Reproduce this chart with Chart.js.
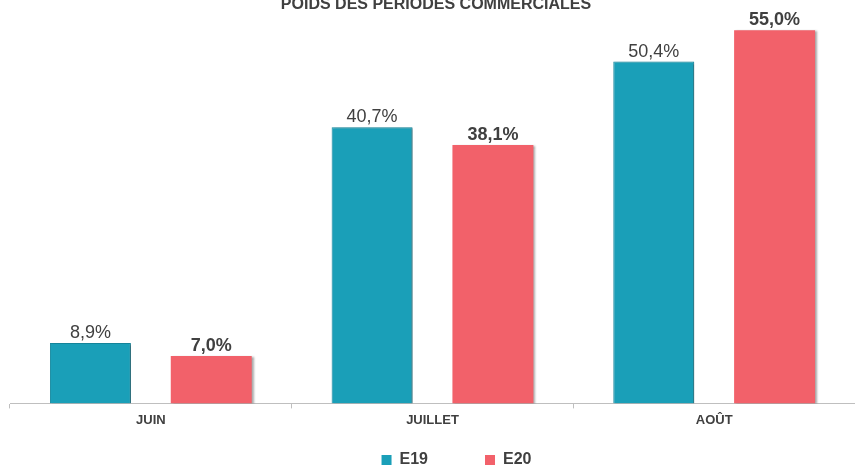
<!DOCTYPE html>
<html>
<head>
<meta charset="utf-8">
<script src="https://cdn.jsdelivr.net/npm/chart.js@4.4.1/dist/chart.umd.min.js"></script>
<style>
  html, body { margin: 0; padding: 0; background: #fff; }
  #wrap { width: 855px; height: 465px; position: relative; }
</style>
</head>
<body>
<div id="wrap"><canvas id="myChart"></canvas></div>
<script>
// data
var categories = ['JUIN', 'JUILLET', 'AOÛT'];
var seriesNames = ['E19', 'E20'];
var e19 = [8.9, 40.7, 50.4];
var e20 = [7.0, 38.1, 55.0];
var chartTitle = 'POIDS DES PÉRIODES COMMERCIALES';

var FONT = "'Liberation Sans', Arial, sans-serif";
var TEXT = '#404040';

// labels on top of bars (E19 normal, E20 bold)
var barLabels = {
    id: 'barLabels',
    afterDatasetsDraw: function(chart) {
        var ctx = chart.ctx;
        ctx.save();
        ctx.textAlign = 'center';
        ctx.textBaseline = 'bottom';
        ctx.fillStyle = TEXT;
        chart.data.datasets.forEach(function(ds, i) {
            var meta = chart.getDatasetMeta(i);
            ctx.font = (i == 1 ? 'bold ' : '') + '18px ' + FONT;
            meta.data.forEach(function(bar, j) {
                var txt = ds.data[j].toFixed(1).replace('.', ',') + '%';
                ctx.fillText(txt, bar.x, bar.y - 1);
            });
        });
        ctx.restore();
    }
};

// soft shadow on bars
var barShadow = {
    id: 'barShadow',
    beforeDatasetsDraw: function(chart) {
        var ctx = chart.ctx;
        ctx.save();
        ctx.shadowColor = 'rgba(0,0,0,0.35)';
        ctx.shadowBlur = 2;
        ctx.shadowOffsetX = 2;
        ctx.shadowOffsetY = 1;
    },
    afterDatasetsDraw: function(chart) {
        chart.ctx.restore();
    }
};

// title drawn at the very top (partly cut like the original)
var topTitle = {
    id: 'topTitle',
    afterDraw: function(chart) {
        var ctx = chart.ctx;
        ctx.save();
        ctx.font = 'bold 16px ' + FONT;
        ctx.fillStyle = TEXT;
        ctx.textAlign = 'center';
        ctx.textBaseline = 'alphabetic';
        ctx.fillText(chartTitle, 436, 9);
        ctx.restore();
    }
};

// nudge legend to the right like the original
var legendShift = {
    id: 'legendShift',
    afterLayout: function(chart) {
        chart.legend.left += 48;
    }
};

var config = {
    type: 'bar',
    data: {
        labels: categories,
        datasets: [{
            label: seriesNames[0],
            data: e19,
            backgroundColor: '#1a9fb8',
            borderColor: '#15889e',
            borderWidth: 1
        }, {
            label: seriesNames[1],
            data: e20,
            backgroundColor: '#f2616a',
            borderColor: '#f2616a',
            borderWidth: 0
        }]
    },
    options: {
        responsive: true,
        maintainAspectRatio: false,
        animation: false,
        datasets: {
            bar: { categoryPercentage: 0.858, barPercentage: 0.67 }
        },
        layout: {
            padding: { left: 10, right: 0, top: 10, bottom: -13 }
        },
        plugins: {
            title: { display: false },
            tooltip: { enabled: false },
            legend: {
                position: 'bottom',
                labels: {
                    boxWidth: 10,
                    boxHeight: 10,
                    padding: 7,
                    color: TEXT,
                    font: { family: FONT, size: 16, weight: 'bold' },
                    // two empty spacer items keep the wide gap between E19 and E20
                    generateLabels: function(chart) {
                        var items = Chart.defaults.plugins.legend.labels.generateLabels(chart);
                        var spacer = function() {
                            return { text: '', fillStyle: 'rgba(0,0,0,0)', strokeStyle: 'rgba(0,0,0,0)',
                                     lineWidth: 0, hidden: false, datasetIndex: -1 };
                        };
                        items.forEach(function(it) { it.lineWidth = 0; });
                        return [items[0], spacer(), spacer(), items[1]];
                    }
                }
            }
        },
        scales: {
            x: {
                grid: {
                    offset: true,
                    drawOnChartArea: false,
                    tickLength: 5,
                    color: '#bfbfbf'
                },
                border: { color: '#bfbfbf', width: 1 },
                ticks: {
                    color: TEXT,
                    padding: 4,
                    font: { family: FONT, size: 13, weight: 'bold' }
                },
                afterFit: function(scale) {
                    scale.height += 13;
                }
            },
            y: {
                display: false,
                min: 0,
                max: 58
            }
        }
    },
    plugins: [barShadow, barLabels, topTitle, legendShift]
};

var ctx = document.getElementById('myChart').getContext('2d');
var chart = new Chart(ctx, config);
</script>
</body>
</html>
